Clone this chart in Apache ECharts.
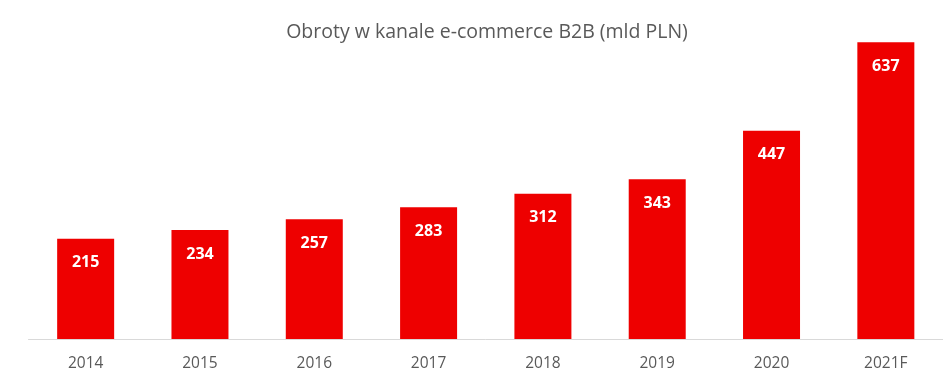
<!DOCTYPE html>
<html><head><meta charset="utf-8">
<script src="https://cdn.jsdelivr.net/npm/echarts@6/dist/echarts.min.js"></script>
<style>html,body{margin:0;padding:0;background:#fff}#c{width:943px;height:375px}</style>
</head><body><div id="c"></div>
<script>
const categories = ['2014','2015','2016','2017','2018','2019','2020','2021F'];
const values = [215,234,257,283,312,343,447,637];
const titleText = 'Obroty w kanale e-commerce B2B (mld PLN)';
const chart = echarts.init(document.getElementById('c'));
chart.setOption({
  animation:false,
  title:{text:titleText,left:482,top:17,textAlign:'center',
    textStyle:{fontFamily:'Open Sans',fontWeight:'normal',fontSize:19.5,color:'#595959'}},
  grid:{left:28.5,width:916,top:13,bottom:36},
  xAxis:{type:'category',data:categories,
    axisLine:{lineStyle:{color:'#d9d9d9',width:1}},axisTick:{show:false},
    axisLabel:{margin:17,fontFamily:'Open Sans',fontSize:15.5,color:'#595959'}},
  yAxis:{type:'value',min:0,max:700,show:false,splitLine:{show:false}},
  series:[{type:'bar',data:values,barWidth:57,itemStyle:{color:'#EE0000'},
    label:{show:true,position:'insideTop',distance:16,color:'#fff',fontWeight:'bold',fontSize:16,fontFamily:'Open Sans'}}]
});
</script></body></html>
